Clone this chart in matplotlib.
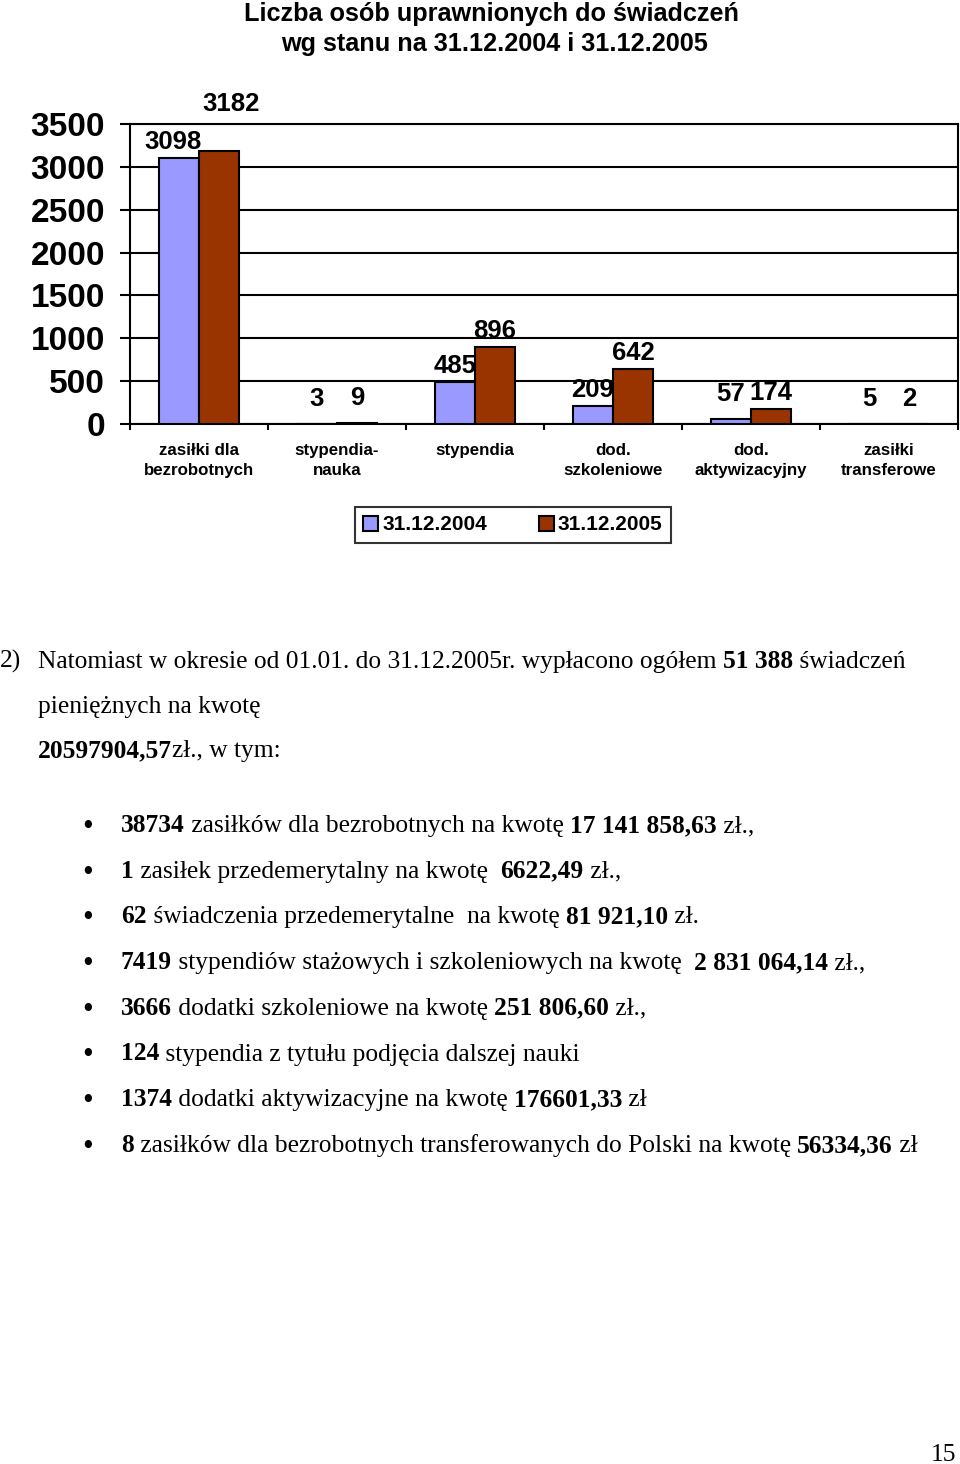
import numpy as np
import matplotlib.pyplot as plt

# dane wykresu
kategorie = ['zasiłki dla\nbezrobotnych', 'stypendia-\nnauka', 'stypendia',
             'dod.\nszkoleniowe', 'dod.\naktywizacyjny', 'zasiłki\ntransferowe']
stan_2004 = [3098, 3, 485, 209, 57, 5]
stan_2005 = [3182, 9, 896, 642, 174, 2]
serie = ['31.12.2004', '31.12.2005']
y_ticks = [0, 500, 1000, 1500, 2000, 2500, 3000, 3500]

W, H = 960, 1464
SANS = 'Liberation Sans'
SERIF = 'Liberation Serif'
FS = 18.4  # tekst akapitu

fig = plt.figure(figsize=(W / 100, H / 100), dpi=100)
fig.patch.set_facecolor('white')

# tytuł
fig.text(491 / W, 1 - 14 / H, 'Liczba osób uprawnionych do świadczeń', ha='center', va='center',
         fontsize=18.2, fontweight='bold', family=SANS)
fig.text(495 / W, 1 - 44 / H, 'wg stanu na 31.12.2004 i 31.12.2005', ha='center', va='center',
         fontsize=18.2, fontweight='bold', family=SANS)

ax = fig.add_axes([130 / W, 1 - 424 / H, 828 / W, 300 / H])
x = np.arange(len(kategorie))
w = 0.29
b1 = ax.bar(x - w / 2, stan_2004, w, color='#9999ff', edgecolor='black', linewidth=1.5, label=serie[0], zorder=3)
b2 = ax.bar(x + w / 2, stan_2005, w, color='#993300', edgecolor='black', linewidth=1.5, label=serie[1], zorder=3)

ax.set_xlim(-0.5, len(kategorie) - 0.5)
ax.set_ylim(0, 3500)
ax.set_yticks(y_ticks)
ax.set_yticklabels([str(v) for v in y_ticks], fontsize=24, fontweight='bold', family=SANS)
ax.yaxis.grid(True, color='black', linewidth=1.5, zorder=0)
ax.tick_params(axis='y', length=7, width=1.5, pad=11)

ax.set_xticks(x)
ax.set_xticklabels(kategorie, fontsize=12.2, fontweight='bold', family=SANS, linespacing=1.45)
ax.set_xticks(np.arange(-0.5, len(kategorie)), minor=True)
ax.tick_params(axis='x', which='major', length=0, pad=13.5)
ax.tick_params(axis='x', which='minor', length=4.5, width=1.5)
for s in ax.spines.values():
    s.set_linewidth(1.5)
    s.set_color('black')

# etykiety wartości
for k, bars in enumerate((b1, b2)):
    for i, r in enumerate(bars):
        v = r.get_height()
        dy = 11.5 if v > 150 else 18
        dx = 0
        if i == 0:  # pierwsza kategoria - etykiety rozsunięte jak w Excelu
            dx = -4.5 if k == 0 else 9
            dy = 11.5 if k == 0 else 34
        ax.annotate(str(int(v)), (r.get_x() + r.get_width() / 2, v), xytext=(dx, dy),
                    textcoords='offset points', ha='center', va='center',
                    fontsize=18.5, fontweight='bold', family=SANS, zorder=5)

leg = fig.legend(handles=[b1, b2], loc='center', bbox_to_anchor=(513 / W, 1 - 525 / H), ncol=2,
                 prop={'family': SANS, 'weight': 'bold', 'size': 15}, frameon=True, fancybox=False,
                 edgecolor='black', handlelength=0.7, handleheight=0.7, handletextpad=0.2,
                 columnspacing=2.5, borderpad=0.4)
leg.get_frame().set_linewidth(1.5)

# tekst pod wykresem
renderer = fig.canvas.get_renderer()


def szer(txt, size, bold):
    wt = 'bold' if bold else 'normal'
    t = fig.text(0, 0, 'x' + txt + 'x', fontsize=size, family=SERIF, fontweight=wt)
    t2 = fig.text(0, 0, 'xx', fontsize=size, family=SERIF, fontweight=wt)
    d = t.get_window_extent(renderer).width - t2.get_window_extent(renderer).width
    t.remove()
    t2.remove()
    return d


def linia(x0, y0, czesci, size=FS):
    xp = x0
    for txt, bold in czesci:
        fig.text(xp / W, 1 - y0 / H, txt, fontsize=size, family=SERIF,
                 fontweight='bold' if bold else 'normal', va='baseline')
        xp += szer(txt, size, bold)


linia(0, 668, [('2)', False)])
linia(38, 668, [('Natomiast w okresie od 01.01. do 31.12.2005r. wypłacono ogółem ', False),
                ('51 388', True), (' świadczeń', False)])
linia(38, 713, [('pieniężnych na kwotę', False)])
linia(38, 757, [('20597904,57', True), ('zł., w tym:', False)])

punkty = [
    [('38734', True), (' zasiłków dla bezrobotnych na kwotę ', False), ('17 141 858,63', True), (' zł.,', False)],
    [('1', True), (' zasiłek przedemerytalny na kwotę  ', False), ('6622,49', True), (' zł.,', False)],
    [('62', True), (' świadczenia przedemerytalne  na kwotę ', False), ('81 921,10', True), (' zł.', False)],
    [('7419', True), (' stypendiów stażowych i szkoleniowych na kwotę  ', False), ('2 831 064,14', True), (' zł.,', False)],
    [('3666', True), (' dodatki szkoleniowe na kwotę ', False), ('251 806,60', True), (' zł.,', False)],
    [('124', True), (' stypendia z tytułu podjęcia dalszej nauki', False)],
    [('1374', True), (' dodatki aktywizacyjne na kwotę ', False), ('176601,33', True), (' zł', False)],
    [('8', True), (' zasiłków dla bezrobotnych transferowanych do Polski na kwotę ', False), ('56334,36', True), (' zł', False)],
]
for i, p in enumerate(punkty):
    yb = 832 + i * 45.7
    fig.text(88 / W, 1 - (yb + 3) / H, '•', fontsize=22, family=SERIF, va='baseline', ha='center')
    linia(121, yb, p)

fig.text(956 / W, 1 - 1461 / H, '15', fontsize=FS, family=SERIF, va='baseline', ha='right')

fig.savefig('out.png', dpi=100)
